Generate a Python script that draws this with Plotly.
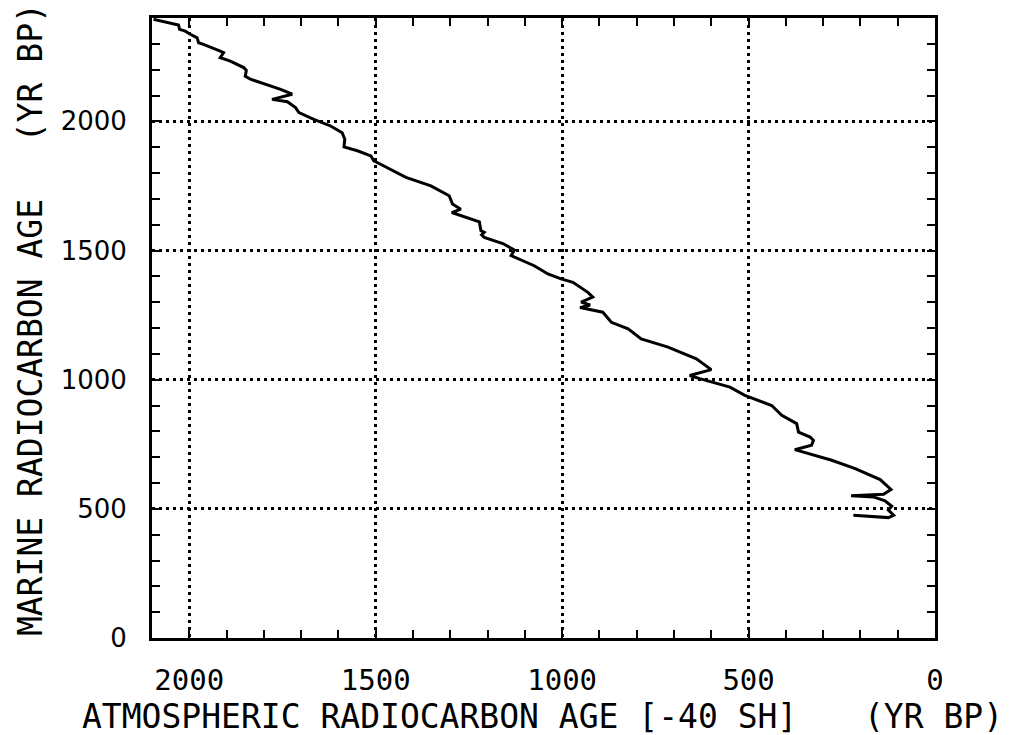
import plotly.graph_objects as go

# Atmospheric radiocarbon age [-40 SH] (yr BP) -- x
atm_age = [2096, 2047, 2029, 2026, 2011, 1997, 1979, 1975, 1962, 1917, 1908, 1917,
           1890, 1854, 1847, 1850, 1836, 1755, 1724, 1778, 1737, 1715, 1706, 1666,
           1621, 1590, 1583, 1585, 1549, 1513, 1505, 1487, 1451, 1419, 1352, 1303,
           1294, 1272, 1296, 1272, 1222, 1218, 1209, 1216, 1209, 1159, 1142, 1128,
           1137, 1075, 1038, 1003, 971, 931, 918, 949, 925, 952, 891, 868, 823,
           788, 716, 640, 600, 658, 631, 550, 510, 438, 411, 371, 366, 335, 326,
           331, 376, 277, 214, 147, 118, 138, 225, 165, 134, 116, 125, 111, 125, 219]
# Marine radiocarbon age (yr BP) -- y
marine_age = [2395, 2381, 2373, 2356, 2349, 2337, 2323, 2304, 2298, 2272, 2266, 2246,
              2233, 2208, 2197, 2175, 2163, 2124, 2105, 2085, 2076, 2053, 2034, 2008,
              1982, 1956, 1931, 1901, 1886, 1866, 1847, 1834, 1808, 1783, 1750, 1712,
              1680, 1660, 1647, 1635, 1611, 1577, 1570, 1561, 1551, 1527, 1512, 1502,
              1480, 1441, 1409, 1390, 1377, 1338, 1320, 1300, 1289, 1279, 1261, 1222,
              1197, 1158, 1126, 1081, 1039, 1016, 1004, 971, 939, 900, 862, 830, 797,
              778, 765, 746, 729, 688, 656, 613, 575, 556, 551, 546, 531, 510, 495,
              475, 466, 475]

x_tick_vals = [2000, 1500, 1000, 500, 0]
y_tick_vals = [0, 500, 1000, 1500, 2000]

fig = go.Figure()
fig.add_trace(go.Scatter(x=atm_age, y=marine_age, mode="lines",
                         line=dict(color="black", width=3), showlegend=False))

mono = "DejaVu Sans Mono"
axis_common = dict(
    showline=True, linecolor="black", linewidth=3, mirror="allticks",
    ticks="inside", ticklen=8, tickwidth=2, tickcolor="black",
    showgrid=True, gridcolor="black", gridwidth=2.5, griddash="3px,4px",
    zeroline=False,
)

fig.update_xaxes(
    range=[2100, 0], tickmode="array", tickvals=x_tick_vals,
    ticktext=[str(v) for v in x_tick_vals],
    tickfont=dict(family=mono, size=29, color="black"),
    ticklabelstandoff=14,
    minor=dict(dtick=100, tick0=0, ticks="inside", ticklen=8, tickwidth=2,
               tickcolor="black", showgrid=False),
    **axis_common,
)
fig.update_yaxes(
    range=[0, 2400], tickmode="array", tickvals=y_tick_vals,
    ticktext=[str(v) for v in y_tick_vals],
    tickfont=dict(family="DejaVu Sans", size=26, color="black"),
    ticklabelstandoff=17,
    minor=dict(dtick=100, tick0=0, ticks="inside", ticklen=8, tickwidth=2,
               tickcolor="black", showgrid=False),
    **axis_common,
)

ann_font = dict(family=mono, size=33, color="black")
fig.add_annotation(text="ATMOSPHERIC RADIOCARBON AGE [-40 SH]", xref="paper", yref="paper",
                   x=-0.092, y=-0.126, xanchor="left", yanchor="middle",
                   showarrow=False, font=ann_font)
fig.add_annotation(text="(YR BP)", xref="paper", yref="paper",
                   x=1.0894, y=-0.126, xanchor="right", yanchor="middle",
                   showarrow=False, font=ann_font)
fig.add_annotation(text="MARINE RADIOCARBON AGE", xref="paper", yref="paper",
                   x=-0.1558, y=0.3548, xanchor="center", yanchor="middle",
                   textangle=-90, showarrow=False, font=ann_font)
fig.add_annotation(text="(YR BP)", xref="paper", yref="paper",
                   x=-0.1558, y=0.911, xanchor="center", yanchor="middle",
                   textangle=-90, showarrow=False, font=ann_font)

fig.update_layout(
    width=1013, height=735,
    margin=dict(l=152, r=78, t=18, b=97),
    paper_bgcolor="white", plot_bgcolor="white",
)

fig.write_html("out.html")
